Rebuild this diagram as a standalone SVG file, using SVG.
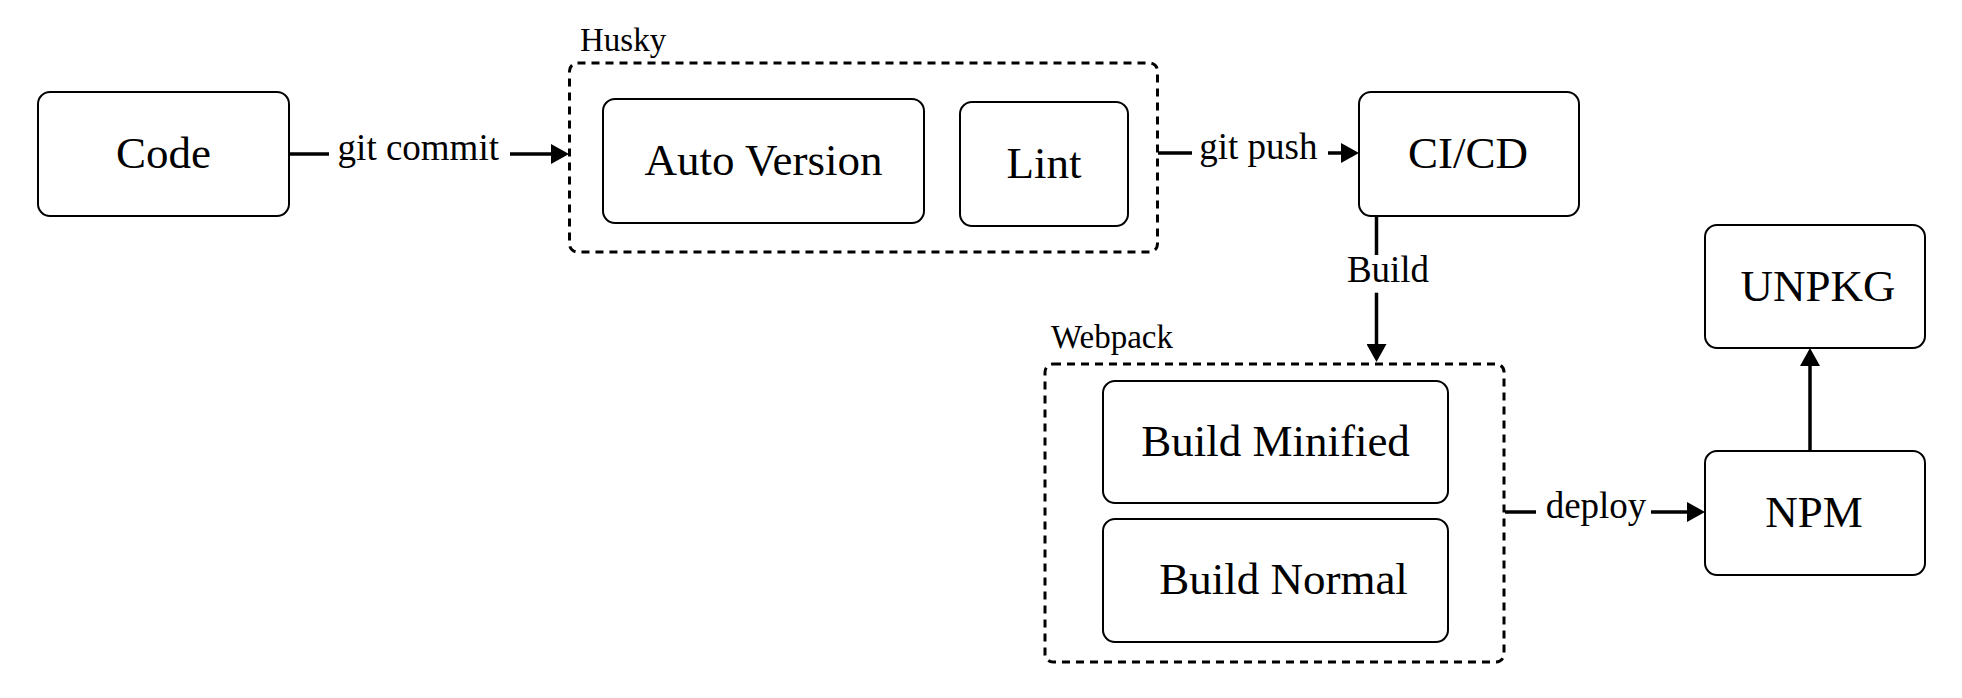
<svg xmlns="http://www.w3.org/2000/svg" width="1962" height="698" viewBox="0 0 1962 698">
<defs>
<style>
.box{fill:#fff;stroke:#000;stroke-width:2}
.grp{fill:none;stroke:#000;stroke-width:3;stroke-dasharray:8 6}
.lbl{font-family:"Liberation Serif","Times New Roman",serif;font-size:45px;fill:#000;text-anchor:middle}
.glbl{font-family:"Liberation Serif","Times New Roman",serif;font-size:33px;fill:#000}
.elbl{font-family:"Liberation Serif","Times New Roman",serif;font-size:37px;fill:#000;text-anchor:middle}
.con{fill:none;stroke:#000;stroke-width:3.5}
</style>
<marker id="arr" markerUnits="userSpaceOnUse" markerWidth="18" markerHeight="20" refX="8" refY="10" orient="auto">
<path d="M0,0 L18,10 L0,20 z" fill="#000"/>
</marker>
</defs>
<rect width="1962" height="698" fill="#fff"/>

<g id="husky">
<rect class="grp" x="569.5" y="63" width="588" height="189" rx="8"/>
<text class="glbl" x="580" y="51">Husky</text>
</g>
<g id="webpack">
<rect class="grp" x="1045" y="364" width="459" height="298" rx="8"/>
<text class="glbl" x="1051" y="348">Webpack</text>
</g>

<g id="code">
<rect class="box" x="38" y="92" width="251" height="124" rx="12"/>
<text class="lbl" x="163.5" y="168">Code</text>
</g>
<g id="auto-version">
<rect class="box" x="603" y="99" width="321" height="124" rx="12"/>
<text class="lbl" x="763.5" y="175">Auto Version</text>
</g>
<g id="lint">
<rect class="box" x="960" y="102" width="168" height="124" rx="12"/>
<text class="lbl" x="1044" y="178">Lint</text>
</g>
<g id="cicd">
<rect class="box" x="1359" y="92" width="220" height="124" rx="12"/>
<text class="lbl" x="1468" y="168">CI/CD</text>
</g>
<g id="build-minified">
<rect class="box" x="1103" y="381" width="345" height="122" rx="12"/>
<text class="lbl" x="1275.5" y="456">Build Minified</text>
</g>
<g id="build-normal">
<rect class="box" x="1103" y="519" width="345" height="123" rx="12"/>
<text class="lbl" x="1283.5" y="594">Build Normal</text>
</g>
<g id="npm">
<rect class="box" x="1705" y="451" width="220" height="124" rx="12"/>
<text class="lbl" x="1814" y="527">NPM</text>
</g>
<g id="unpkg">
<rect class="box" x="1705" y="225" width="220" height="123" rx="12"/>
<text class="lbl" x="1818" y="301">UNPKG</text>
</g>

<g id="connectors">
<line class="con" x1="289" y1="154" x2="329" y2="154"/>
<text class="elbl" x="418.3" y="160">git commit</text>
<line class="con" x1="510" y1="154" x2="559" y2="154" marker-end="url(#arr)"/>

<line class="con" x1="1158" y1="153" x2="1192" y2="153"/>
<text class="elbl" x="1258.3" y="159">git push</text>
<line class="con" x1="1328" y1="153" x2="1349" y2="153" marker-end="url(#arr)"/>

<line class="con" x1="1376.5" y1="216" x2="1376.5" y2="255"/>
<text class="elbl" x="1388" y="282">Build</text>
<line class="con" x1="1376.5" y1="292.7" x2="1376.5" y2="352" marker-end="url(#arr)"/>

<line class="con" x1="1505" y1="512" x2="1536" y2="512"/>
<text class="elbl" x="1596" y="518">deploy</text>
<line class="con" x1="1651" y1="512" x2="1695" y2="512" marker-end="url(#arr)"/>

<line class="con" x1="1810" y1="451" x2="1810" y2="358" marker-end="url(#arr)"/>
</g>
</svg>
